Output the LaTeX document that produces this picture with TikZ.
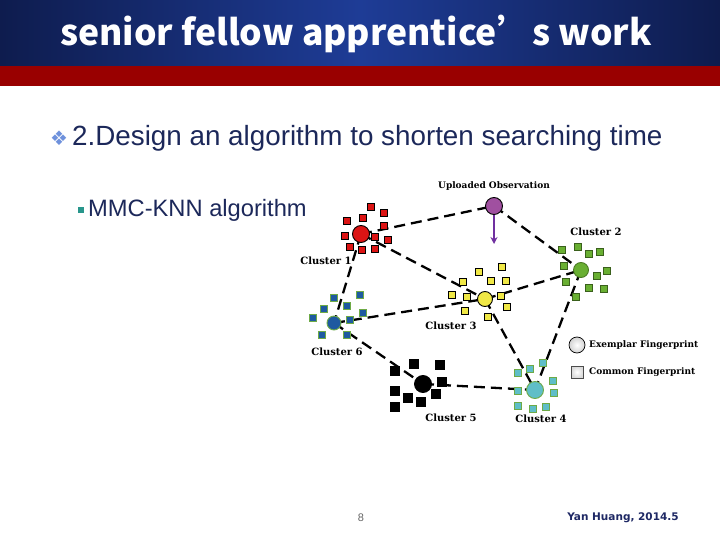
\documentclass[tikz,border=0pt]{standalone}
\usepackage{fontspec}
\setmainfont{Liberation Sans}
\newfontfamily\titlefont{Noto Sans CJK SC}
\newfontfamily\dejavu{DejaVu Sans}
\newfontfamily\labfont{DejaVu Serif}
\usetikzlibrary{arrows.meta,backgrounds}
\definecolor{navydark}{RGB}{14,28,78}
\definecolor{navymid}{RGB}{30,60,150}
\definecolor{bandred}{RGB}{153,0,0}
\definecolor{textnavy}{RGB}{28,40,90}
\definecolor{bulletblue}{RGB}{110,145,220}
\definecolor{teal1}{RGB}{40,150,140}
\definecolor{c1red}{RGB}{220,20,20}
\definecolor{c2green}{RGB}{105,175,50}
\definecolor{c3yellow}{RGB}{240,232,70}
\definecolor{c6blue}{RGB}{30,90,160}
\definecolor{c6edge}{RGB}{110,170,70}
\definecolor{c4teal}{RGB}{95,190,200}
\definecolor{upl}{RGB}{160,80,160}
\definecolor{arrowpurple}{RGB}{112,48,160}
\definecolor{footnavy}{RGB}{30,40,100}
\begin{document}
\begin{tikzpicture}[x=1pt,y=-1pt,
  sq/.style={rectangle,minimum size=7.5pt,inner sep=0pt,draw=black,line width=0.9pt},
  ctr/.style={circle,minimum size=15pt,inner sep=0pt,draw=black,line width=0.9pt},
  edge/.style={draw=black,line width=2.3pt,dash pattern=on 11pt off 6pt},
  lab/.style={font=\labfont\bfseries\fontsize{10}{12}\selectfont,inner sep=0pt},
  leg/.style={font=\labfont\bfseries\fontsize{9}{11}\selectfont,inner sep=0pt}]
\useasboundingbox (0,0) rectangle (720,540);
% header
\shade[left color=navydark,right color=navymid] (0,0) rectangle (360,66);
\shade[left color=navymid,right color=navydark] (360,0) rectangle (720,66);
\fill[bandred] (0,66) rectangle (720,86);
\node[text=white,font=\titlefont\bfseries\fontsize{35.5}{40}\selectfont,inner sep=0pt] (title) at (356,34) {senior fellow apprentice’s work};
% bullets
\node[text=bulletblue,font=\dejavu\fontsize{20}{24}\selectfont,inner sep=0pt] (b1) at (59,138) {❖};
\node[text=textnavy,font=\fontsize{27.8}{32}\selectfont,anchor=west,inner sep=0pt] (t1) at (72,138) {2.Design an algorithm to shorten searching time};
\node[fill=teal1,minimum size=6pt,inner sep=0pt] (b2) at (81,210) {};
\node[text=textnavy,font=\fontsize{23.7}{28}\selectfont,anchor=west,inner sep=0pt] (t2) at (88,210) {MMC-KNN algorithm};
% cluster centres
\node[ctr,fill=upl,minimum size=17pt] (up) at (494,206) {};
\node[ctr,fill=c1red,minimum size=17pt] (c1) at (361,234) {};
\node[ctr,fill=c2green,draw=c2green!70!black,minimum size=15pt] (c2) at (581,270) {};
\node[ctr,fill=c3yellow,minimum size=15pt] (c3) at (485,299) {};
\node[ctr,fill=c6blue,draw=c6edge,minimum size=14pt] (c6) at (334,323) {};
\node[ctr,fill=black,minimum size=17pt] (c5) at (423,384) {};
\node[ctr,fill=c4teal,draw=c6edge,minimum size=17pt] (c4) at (535,390) {};
% edges
\begin{scope}[on background layer]
\fill[white] (0,86) rectangle (720,540);
\draw[edge] (c1.center) -- (up.center);
\draw[edge] (up.center) -- (c2.center);
\draw[edge] (c1.center) -- (c3.center);
\draw[edge] (c3.center) -- (c2.center);
\draw[edge] (c1.center) -- (c6.center);
\draw[edge] (c6.center) -- (c3.center);
\draw[edge] (c6.center) -- (c5.center);
\draw[edge] (c5.center) -- (c4.center);
\draw[edge] (c3.center) -- (c4.center);
\draw[edge] (c2.center) -- (c4.center);
\end{scope}
% purple arrow
\coordinate (upend) at (494,244);
\draw[arrowpurple,line width=1.6pt,-{Stealth[length=7pt,width=7pt]}] (up.south) -- (upend);
% squares
\foreach \p [count=\i] in {(371,207),(384,213),(347,221),(363,218),(384,226),(345,236),(375,237),(388,240),(350,247),(362,250),(375,249)}
  \node[sq,fill=c1red] (s1-\i) at \p {};
\foreach \p [count=\i] in {(562,250),(578,247),(589,254),(600,252),(564,266),(607,271),(597,276),(566,282),(589,288),(604,289),(576,297)}
  \node[sq,fill=c2green,draw=c2green!55!black] (s2-\i) at \p {};
\foreach \p [count=\i] in {(479,272),(502,267),(463,282),(491,281),(506,281),(452,295),(467,297),(501,296),(507,307),(465,311),(488,317)}
  \node[sq,fill=c3yellow] (s3-\i) at \p {};
\foreach \p [count=\i] in {(360,295),(334,298),(347,306),(324,309),(363,313),(313,318),(350,320),(322,335),(347,335)}
  \node[sq,fill=c6blue,draw=c6edge] (s6-\i) at \p {};
\foreach \p [count=\i] in {(414,364),(440,365),(395,371),(442,382),(395,391),(408,398),(421,402),(436,394),(395,407)}
  \node[sq,fill=black,minimum size=9pt] (s5-\i) at \p {};
\foreach \p [count=\i] in {(518,373),(530,369),(543,363),(553,381),(518,391),(554,393),(518,406),(533,409),(546,407)}
  \node[sq,fill=c4teal,draw=c6edge] (s4-\i) at \p {};
% labels
\node[leg] (lup) at (494,186) {Uploaded Observation};
\node[lab] (l1) at (326,261) {Cluster 1};
\node[lab] (l2) at (596,232) {Cluster 2};
\node[lab] (l3) at (451,326) {Cluster 3};
\node[lab] (l6) at (337,352) {Cluster 6};
\node[lab] (l5) at (451,418) {Cluster 5};
\node[lab] (l4) at (541,419) {Cluster 4};
% legend
\node[circle,minimum size=16pt,inner sep=0pt,draw=black,line width=0.7pt,inner color=white,outer color=gray!35] (lg1) at (577,345) {};
\node[rectangle,minimum size=12pt,inner sep=0pt,draw=black!70,line width=0.6pt,inner color=white,outer color=gray!30] (lg2) at (577,372) {};
\node[leg,anchor=west] (lt1) at (589,345) {Exemplar Fingerprint};
\node[leg,anchor=west] (lt2) at (589,372) {Common Fingerprint};
% footer
\node[text=gray!80!black,font=\fontsize{11}{13}\selectfont,inner sep=0pt] (pg) at (361,518) {8};
\node[text=footnavy,font=\dejavu\bfseries\fontsize{10.5}{12}\selectfont,inner sep=0pt] (ft) at (623,518) {Yan Huang, 2014.5};
\end{tikzpicture}
\end{document}
